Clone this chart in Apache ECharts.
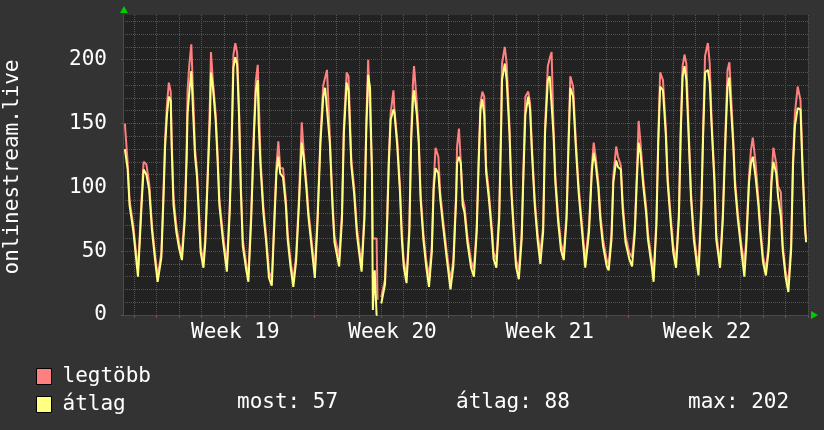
<!DOCTYPE html>
<html>
<head>
<meta charset="utf-8">
<script src="https://cdn.jsdelivr.net/npm/echarts@6/dist/echarts.min.js"></script>
<style>
  html, body { margin: 0; padding: 0; background: #333333; }
  #chart { width: 824px; height: 430px; }
</style>
</head>
<body>
<div id="chart"></div>
<script>
// Heures depuis le lundi de la semaine 19 (00:00)
const HOURS = [
  -34, -31, -29, -25, -20, -16, -14, -11, -8, -5, -2, 1, 5, 7, 9, 11, 13, 15, 16, 18, 21,
  24, 27, 30, 32, 33, 35, 37, 39, 41, 43, 45, 47, 50, 52, 55, 57, 58, 60, 63, 65, 67, 71,
  75, 78, 80, 82, 84, 86, 88, 90, 92, 96, 98, 101, 104, 106, 108, 109, 111, 114, 117, 120,
  123, 125, 128, 130, 132, 135, 138, 140, 143, 146, 149, 152, 155, 157, 160, 162, 165, 169,
  172, 175, 178, 180, 182, 185, 188, 190, 195, 198, 200, 203, 205, 208, 211, 214, 217, 219,
  222, 224, 226, 228, 230, 231, 233, 235, 236, 238, 240, 244, 246, 248, 250, 253, 254, 257,
  260, 262, 264, 267, 270, 272, 274, 275, 278, 280, 282, 285, 288, 291, 294, 296, 298, 301,
  303, 306, 310, 314, 317, 320, 321, 323, 325, 327, 329, 332, 336, 339, 342, 344, 346, 348,
  350, 352, 355, 358, 360, 363, 366, 368, 369, 372, 374, 377, 379, 382, 384, 387, 390, 392,
  394, 397, 399, 401, 404, 407, 410, 413, 415, 418, 420, 422, 424, 426, 429, 432, 435, 438,
  440, 442, 445, 448, 451, 454, 457, 458, 462, 465, 467, 469, 472, 474, 477, 481, 483, 486,
  488, 491, 493, 496, 498, 501, 505, 508, 511, 513, 515, 517, 520, 523, 525, 529, 531, 534,
  536, 538, 541, 544, 546, 549, 552, 555, 558, 560, 562, 564, 566, 569, 571, 574, 577, 579,
  582, 584, 586, 589, 591, 593, 596, 598, 602, 605, 608, 610, 612, 613, 616, 618, 621, 625,
  628, 630, 633, 635, 637, 640, 643, 645, 648, 651, 654, 657, 659, 662, 664, 667, 669, 672,
  675, 678, 680, 682, 685, 688, 690, 693, 694
];

// legtöbb (maximum)
const LEGTOBB = [
  150, 119, 90, 70, 35, 93, 120, 118, 103, 70, 49, 30, 49, 91, 138, 165, 182, 175, 138, 92, 70,
  56, 48, 80, 130, 176, 197, 212, 213, 130, 114, 85, 53, 43, 62, 122, 171, 206, 184, 158, 128, 91, 62,
  40, 85, 136, 204, 213, 205, 162, 101, 59, 38, 32, 80, 148, 184, 196, 171, 122, 85, 62, 34,
  28, 64, 117, 136, 115, 115, 91, 64, 43, 27, 47, 91, 151, 129, 104, 83, 62, 35,
  80, 140, 180, 186, 192, 140, 88, 62, 46, 80, 148, 190, 187, 122, 100, 68, 50, 40,
  80, 152, 200, 201, 117, 60, 60, 60, 12, null, 14, 28, 70, 122, 158, 176, 161, 138,
  101, 64, 43, 30, 70, 143, 184, 195, 166, 140, 96, 64, 43, 30, 54, 104, 131, 124,
  96, 75, 49, 27, 43, 96, 132, 146, 145, 91, 85, 62, 42, 36, 70, 122, 166, 175,
  171, 117, 96, 70, 49, 43, 80, 148, 197, 210, 197, 148, 101, 64, 43, 35, 64, 117,
  171, 175, 166, 132, 91, 64, 48, 70, 148, 195, 201, 206, 148, 109, 78, 56, 48, 80,
  135, 187, 179, 135, 100, 75, 50, 43, 70, 117, 135, 124, 104, 80, 59, 43, 40, 64,
  109, 132, 124, 117, 88, 62, 49, 45, 70, 109, 152, 135, 106, 85, 64, 43, 31, 75,
  140, 190, 184, 148, 109, 80, 54, 43, 80, 148, 195, 204, 197, 135, 96, 64, 46, 38,
  88, 148, 203, 213, 197, 153, 109, 64, 40, 80, 148, 192, 198, 184, 140, 106, 80, 54,
  40, 59, 109, 129, 139, 119, 91, 70, 46, 35, 56, 109, 131, 119, 101, 96, 55, 34,
  25, 56, 122, 158, 179, 168, 122, 70, 60
];

// átlag (moyenne)
const ATLAG = [
  130, 114, 86, 66, 30, 88, 114, 110, 98, 66, 45, 26, 45, 86, 132, 157, 171, 168, 132, 86, 65,
  52, 43, 75, 122, 158, 176, 191, 190, 124, 109, 80, 49, 37, 57, 117, 155, 190, 179, 153, 122, 86, 57,
  34, 80, 130, 194, 202, 196, 156, 96, 54, 34, 26, 75, 142, 176, 184, 150, 116, 80, 57, 29,
  23, 59, 112, 124, 111, 108, 86, 59, 38, 22, 42, 86, 135, 124, 99, 78, 57, 29,
  75, 135, 171, 178, 179, 135, 83, 57, 38, 75, 142, 182, 176, 117, 95, 63, 45, 34,
  75, 146, 188, 178, 112, 4, 35, 0, 0, null, 9, 24, 65, 117, 153, 161, 159, 133,
  96, 59, 38, 25, 65, 138, 171, 176, 157, 135, 91, 59, 38, 22, 49, 99, 115, 111,
  91, 70, 44, 20, 38, 91, 119, 124, 119, 86, 80, 57, 37, 30, 65, 117, 161, 169,
  157, 112, 91, 65, 44, 37, 75, 142, 184, 197, 184, 142, 96, 59, 38, 28, 59, 112,
  157, 171, 161, 127, 86, 59, 40, 65, 142, 184, 187, 187, 142, 104, 73, 51, 43, 75,
  130, 178, 171, 130, 95, 70, 45, 37, 65, 112, 127, 119, 99, 75, 54, 38, 35, 59,
  104, 121, 116, 114, 83, 57, 44, 38, 65, 104, 135, 127, 101, 80, 59, 38, 26, 70,
  135, 179, 176, 142, 104, 75, 49, 37, 75, 142, 187, 195, 184, 130, 91, 59, 41, 31,
  83, 142, 190, 192, 182, 148, 104, 59, 37, 75, 142, 179, 186, 171, 135, 101, 75, 49,
  30, 54, 104, 119, 124, 108, 86, 65, 41, 31, 51, 104, 120, 111, 93, 77, 51, 30,
  18, 51, 117, 148, 162, 161, 117, 65, 57
];

const SERIES_NAMES = ['legtöbb', 'átlag'];
const SERIES_COLORS = ['#ff8080', '#ffff80'];
const WEEK_LABELS = ['Week 19', 'Week 20', 'Week 21', 'Week 22'];
const WEEK_STARTS = [0, 168, 336, 504, 672];
const Y_LABELS = [0, 50, 100, 150, 200];
const STATS = ['most: 57', 'átlag: 88', 'max: 202'];
const Y_TITLE = 'onlinestream.live';

const FONT = '"DejaVu Sans Mono", monospace';
const X_MIN = -36, X_MAX = 696, Y_MAX = 235;

// Lignes de grille mineures (jours, pas de 10), sans doubler les lignes majeures
const dayTicks = [];
for (let h = -24; h <= X_MAX; h += 24) if (!WEEK_STARTS.includes(h)) dayTicks.push(h);
const minorY = [];
for (let v = 10; v <= 230; v += 10) if (!Y_LABELS.includes(v)) minorY.push(v);
const weekCenters = WEEK_STARTS.slice(0, WEEK_LABELS.length).map(h => h + 84);

const minorLine = { color: '#555555', type: [1, 1], width: 1 };
const majorLine = { color: '#8a3c3c', type: [1, 1], width: 1 };
const axisLineStyle = { show: true, onZero: false, lineStyle: { color: '#4a4a4a' } };

function makeSeries(name, values, color) {
  return {
    name,
    type: 'line',
    xAxisIndex: 0,
    yAxisIndex: 0,
    showSymbol: false,
    symbol: 'none',
    color,
    lineStyle: { color, width: 2 },
    connectNulls: false,
    animation: false,
    data: HOURS.map((h, i) => [h, values[i]]),
  };
}

function makeLegend(name, top) {
  return {
    orient: 'vertical', left: 31, top,
    itemWidth: 15, itemHeight: 16,
    icon: 'rect',
    itemStyle: { borderColor: '#000000', borderWidth: 1 },
    textStyle: { color: '#ffffff', fontFamily: FONT, fontSize: 21, padding: [0, 0, 0, 6] },
    selectedMode: false,
    data: [name],
  };
}

const chart = echarts.init(document.getElementById('chart'));
chart.setOption({
  backgroundColor: '#333333',
  animation: false,
  grid: {
    left: 123, right: 16, top: 15, bottom: 115,
    show: true, backgroundColor: '#222222', borderWidth: 0,
  },
  xAxis: [
    {
      type: 'value', position: 'bottom', min: X_MIN, max: X_MAX,
      axisLine: axisLineStyle,
      axisTick: { show: true, customValues: dayTicks, length: 3, lineStyle: { color: '#5a5a5a' } },
      splitLine: { show: true, lineStyle: minorLine },
      axisLabel: {
        customValues: weekCenters,
        formatter: v => WEEK_LABELS[Math.round((v - 84) / 168)],
        color: '#ffffff', fontFamily: FONT, fontSize: 21, margin: 7,
      },
    },
    {
      type: 'value', position: 'bottom', min: X_MIN, max: X_MAX,
      axisLine: { show: false, onZero: false },
      axisTick: { show: true, customValues: WEEK_STARTS, length: 3, lineStyle: { color: '#a04040' } },
      splitLine: { show: true, lineStyle: majorLine },
      axisLabel: { show: false },
    },
  ],
  yAxis: [
    {
      type: 'value', position: 'left', min: 0, max: Y_MAX,
      axisLine: axisLineStyle,
      axisTick: { show: false, customValues: minorY },
      splitLine: { show: true, lineStyle: minorLine },
      axisLabel: { show: false },
    },
    {
      type: 'value', position: 'left', min: 0, max: Y_MAX,
      axisLine: { show: false, onZero: false },
      axisTick: { show: true, customValues: Y_LABELS, length: 2, lineStyle: { color: '#a04040' } },
      splitLine: { show: true, lineStyle: majorLine },
      axisLabel: {
        customValues: Y_LABELS,
        color: '#ffffff', fontFamily: FONT, fontSize: 21, margin: 16, padding: [4, 0, 0, 0],
      },
    },
  ],
  legend: [
    makeLegend(SERIES_NAMES[0], 361),
    makeLegend(SERIES_NAMES[1], 389),
  ],
  graphic: [
    {
      type: 'text', x: 13, y: 167, rotation: Math.PI / 2,
      style: { text: Y_TITLE, fill: '#ffffff', font: '21px ' + FONT, textAlign: 'center', textVerticalAlign: 'middle' },
    },
    ...STATS.map((s, i) => ({
      type: 'text', x: [237, 456, 688][i], y: 403,
      style: { text: s, fill: '#ffffff', font: '21px ' + FONT, textAlign: 'left', textVerticalAlign: 'middle' },
    })),
    // flèches vertes des axes
    { type: 'polygon', shape: { points: [[120, 13], [128, 13], [124, 6]] }, style: { fill: '#00cc00' } },
    { type: 'polygon', shape: { points: [[811, 311], [811, 319], [818, 315]] }, style: { fill: '#00cc00' } },
  ],
  series: [
    makeSeries(SERIES_NAMES[0], LEGTOBB, SERIES_COLORS[0]),
    makeSeries(SERIES_NAMES[1], ATLAG, SERIES_COLORS[1]),
  ],
});
</script>
</body>
</html>
